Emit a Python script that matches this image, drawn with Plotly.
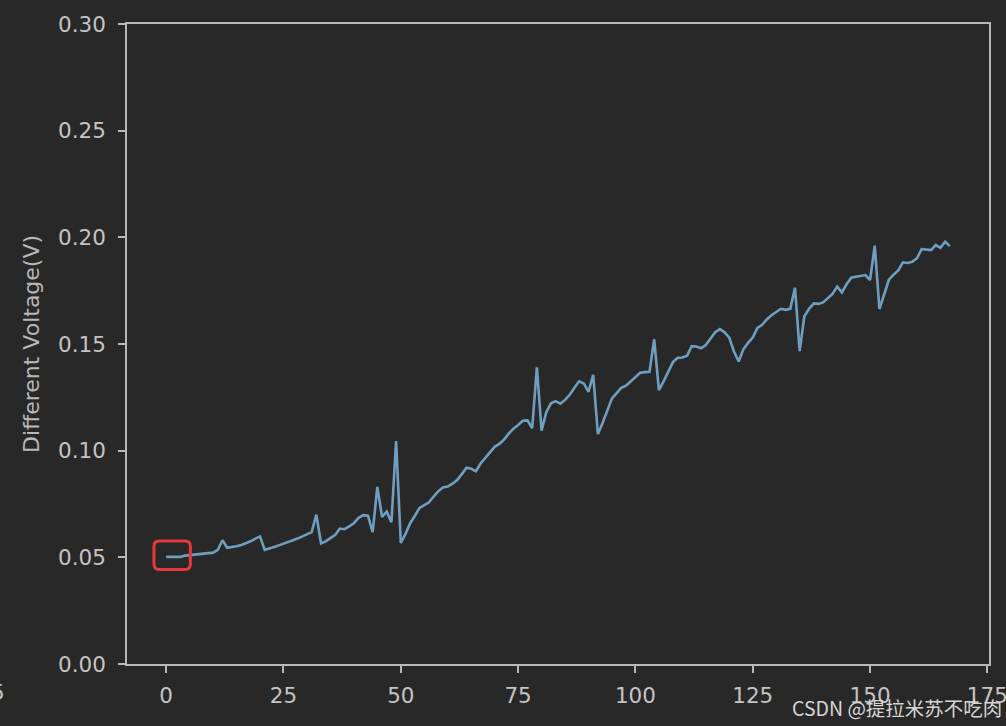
import plotly.graph_objects as go

# ---- data ----
sample_index = list(range(168))
diff_voltage = [
    0.0502, 0.0502, 0.0502, 0.0502, 0.0508, 0.0510, 0.0512, 0.0515, 0.0518, 0.0520,
    0.0522, 0.0535, 0.0580, 0.0545, 0.0548, 0.0552, 0.0558, 0.0565, 0.0575, 0.0588,
    0.0598, 0.0535, 0.0540, 0.0548, 0.0556, 0.0565, 0.0574, 0.0580, 0.0588, 0.0598,
    0.0610, 0.0618, 0.0700, 0.0565, 0.0575, 0.0590, 0.0605, 0.0635, 0.0632, 0.0645,
    0.0660, 0.0685, 0.0698, 0.0695, 0.0618, 0.0830, 0.0690, 0.0714, 0.0665, 0.1045,
    0.0568, 0.0610, 0.0660, 0.0695, 0.0732, 0.0745, 0.0758, 0.0785, 0.0810, 0.0828,
    0.0832, 0.0845, 0.0862, 0.0890, 0.0920, 0.0915, 0.0903, 0.0940, 0.0965, 0.0992,
    0.1018, 0.1032, 0.1052, 0.1080, 0.1103, 0.1120, 0.1140, 0.1142, 0.1105, 0.1390,
    0.1094, 0.1180, 0.1222, 0.1232, 0.1220, 0.1238, 0.1262, 0.1295, 0.1325, 0.1315,
    0.1276, 0.1355, 0.1078, 0.1130, 0.1190, 0.1245, 0.1270, 0.1295, 0.1305, 0.1325,
    0.1345, 0.1365, 0.1368, 0.1370, 0.1522, 0.1284, 0.1325, 0.1370, 0.1415, 0.1435,
    0.1437, 0.1445, 0.1490, 0.1488, 0.1480, 0.1495, 0.1525, 0.1555, 0.1570, 0.1555,
    0.1530, 0.1465, 0.1418, 0.1475, 0.1505, 0.1530, 0.1575, 0.1590, 0.1615, 0.1635,
    0.1650, 0.1665, 0.1660, 0.1665, 0.1764, 0.1467, 0.1630, 0.1665, 0.1690, 0.1688,
    0.1695, 0.1715, 0.1735, 0.1769, 0.1742, 0.1780, 0.1811, 0.1815, 0.1820, 0.1823,
    0.1800, 0.1961, 0.1664, 0.1735, 0.1800, 0.1825, 0.1845, 0.1883, 0.1880, 0.1885,
    0.1902, 0.1945, 0.1942, 0.1940, 0.1964, 0.1951, 0.1980, 0.1959,
]
x_ticks = [0, 25, 50, 75, 100, 125, 150, 175]
y_ticks = [0.00, 0.05, 0.10, 0.15, 0.20, 0.25, 0.30]
y_label = "Different Voltage(V)"
watermark = "CSDN @提拉米苏不吃肉"

BG = "#282828"
FG = "#c4c4c4"
LINE = "#6e9fc0"

fig = go.Figure()
fig.add_trace(go.Scatter(
    x=sample_index, y=diff_voltage, mode="lines",
    line=dict(color=LINE, width=2.6), showlegend=False,
))

axis_common = dict(
    showline=True, linecolor="#b8b8b8", linewidth=1.5, mirror=True,
    ticks="outside", ticklen=7, tickwidth=1.5, tickcolor="#b8b8b8",
    showgrid=False, zeroline=False, ticklabeloverflow="allow", automargin=False,
    tickfont=dict(family="DejaVu Sans", size=21.5, color=FG),
)

fig.update_layout(
    width=1006, height=726,
    margin=dict(l=127, r=17, t=24, b=62),
    paper_bgcolor=BG, plot_bgcolor=BG,
    xaxis=dict(range=[-8.35, 175.35], tickvals=x_ticks, ticklabelstandoff=4,
               **axis_common),
    yaxis=dict(range=[0, 0.30], tickvals=y_ticks, tickformat=".2f",
               ticklabelstandoff=8,
               title=dict(text=y_label, standoff=12,
                          font=dict(family="DejaVu Sans", size=22, color="#b8b8b8")),
               **axis_common),
)

# red rounded highlight box (data coordinates)
x0, x1, y0, y1 = -2.6, 5.15, 0.0443, 0.0576
rx, ry = 1.1, 0.0024
path = (f"M {x0+rx},{y0} L {x1-rx},{y0} Q {x1},{y0} {x1},{y0+ry} "
        f"L {x1},{y1-ry} Q {x1},{y1} {x1-rx},{y1} L {x0+rx},{y1} "
        f"Q {x0},{y1} {x0},{y1-ry} L {x0},{y0+ry} Q {x0},{y0} {x0+rx},{y0} Z")
fig.add_shape(type="path", path=path, xref="x", yref="y",
              line=dict(color="#e8383d", width=3))

fig.add_annotation(text=watermark, xref="paper", yref="paper",
                   x=1.0 + 15/862, y=-(707-664)/640, xanchor="right", yanchor="middle",
                   showarrow=False,
                   font=dict(family="Noto Sans CJK SC", size=19.5, color="#d6d6d6"))
fig.add_annotation(text="5", xref="paper", yref="paper",
                   x=(-2-127)/862, y=-(692-664)/640, xanchor="center", yanchor="middle",
                   showarrow=False,
                   font=dict(family="DejaVu Sans", size=21.5, color=FG))

fig.write_html(
    "out.html",
    config={"displayModeBar": False},
    post_script="document.body.style.margin='0';document.body.style.background='#282828';"
                "document.body.style.overflow='hidden';",
)
